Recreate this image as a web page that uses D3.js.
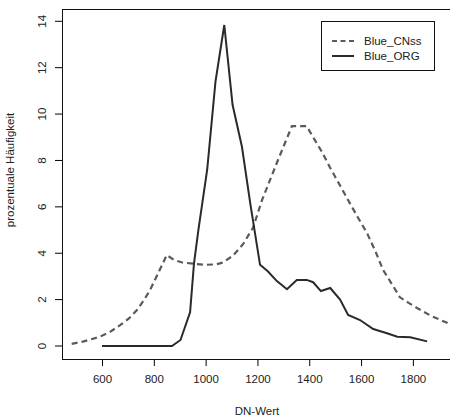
<!DOCTYPE html>
<html>
<head>
<meta charset="utf-8">
<title>DN-Wert</title>
<style>
  body { margin: 0; background: #fff; }
  svg { display: block; font-family: "Liberation Sans", Arial, sans-serif; }
  .tick text { fill: #222; }
</style>
</head>
<body>
<div id="chart"></div>
<script src="https://d3js.org/d3.v7.min.js"></script>
<script>
// DN-Wert vs prozentuale Haeufigkeit
var cnssX = [483, 530, 592, 630, 670, 705, 735, 760, 785, 815, 850, 880, 910, 951, 1000, 1040, 1067, 1106, 1145, 1183, 1218, 1275, 1333, 1390, 1415, 1450, 1480, 1520, 1557, 1590, 1623, 1655, 1685, 1720, 1750, 1785, 1816, 1870, 1932, 1944];
var cnssY = [0.09, 0.2, 0.4, 0.6, 0.9, 1.2, 1.55, 1.95, 2.4, 3.1, 3.92, 3.7, 3.6, 3.55, 3.5, 3.52, 3.6, 3.9, 4.4, 5.1, 6.3, 7.9, 9.48, 9.48, 9.0, 8.35, 7.7, 6.9, 6.15, 5.5, 4.87, 4.1, 3.28, 2.65, 2.1, 1.85, 1.64, 1.3, 1.0, 0.9];

var orgX = [600, 870, 903, 940, 955, 972, 1006, 1038, 1072, 1104, 1140, 1173, 1210, 1240, 1275, 1314, 1352, 1390, 1415, 1445, 1481, 1519, 1550, 1596, 1647, 1700, 1740, 1790, 1855];
var orgY = [0, 0, 0.26, 1.45, 3.55, 5.0, 7.6, 11.4, 13.84, 10.4, 8.6, 6.1, 3.5, 3.22, 2.8, 2.45, 2.85, 2.85, 2.75, 2.37, 2.5, 2.0, 1.34, 1.12, 0.73, 0.55, 0.4, 0.38, 0.2];

var xTicks = [600, 800, 1000, 1200, 1400, 1600, 1800];
var yTicks = [0, 2, 4, 6, 8, 10, 12, 14];

var seriesNames = ["Blue_CNss", "Blue_ORG"];

var width = 450, height = 417;
var margin = {top: 9, right: -2, bottom: 58, left: 62};

var svg = d3.select("#chart").append("svg")
  .attr("width", width)
  .attr("height", height);

var x = d3.scaleLinear().domain([445.6, 1951]).range([margin.left, width - margin.right]);
var y = d3.scaleLinear().domain([-0.56, 14.53]).range([height - margin.bottom, margin.top]);

// axes
var xAxis = svg.append("g")
  .attr("transform", "translate(0," + (height - margin.bottom) + ")")
  .call(d3.axisBottom(x).tickValues(xTicks).tickFormat(d3.format("d")).tickSize(7).tickPadding(9).tickSizeOuter(0));
xAxis.select(".domain").remove();
xAxis.selectAll("text").style("font-size", "11.5px");

var yAxis = svg.append("g")
  .attr("transform", "translate(" + margin.left + ",0)")
  .call(d3.axisLeft(y).tickValues(yTicks).tickFormat(d3.format("d")).tickSize(7).tickSizeOuter(0));
yAxis.select(".domain").remove();
yAxis.selectAll("text")
  .style("font-size", "11.5px")
  .attr("text-anchor", "middle")
  .attr("transform", function(d) { return "translate(-20," + y(d) + ") rotate(-90)"; })
  .attr("x", 0).attr("y", 0).attr("dy", "0.35em");
yAxis.selectAll(".tick").attr("transform", null);
yAxis.selectAll(".tick line").attr("y1", function(d) { return y(d); }).attr("y2", function(d) { return y(d); });

// box
svg.append("rect")
  .attr("x", margin.left + 0.5)
  .attr("y", margin.top + 0.5)
  .attr("width", width - margin.right - margin.left)
  .attr("height", height - margin.bottom - margin.top)
  .attr("fill", "none")
  .attr("stroke", "#111")
  .attr("stroke-width", 1);

// lines
var line = d3.line()
  .x(function(d) { return x(d[0]); })
  .y(function(d) { return y(d[1]); });

svg.append("path")
  .datum(d3.zip(cnssX, cnssY))
  .attr("d", line)
  .attr("fill", "none")
  .attr("stroke", "#5a5a5a")
  .attr("stroke-width", 2.2)
  .attr("stroke-dasharray", "6,4");

svg.append("path")
  .datum(d3.zip(orgX, orgY))
  .attr("d", line)
  .attr("fill", "none")
  .attr("stroke", "#2a2a2a")
  .attr("stroke-width", 2);

// axis titles
svg.append("text")
  .attr("x", (margin.left + width - margin.right) / 2)
  .attr("y", 415)
  .attr("text-anchor", "middle")
  .style("font-size", "11.5px")
  .style("fill", "#222")
  .text("DN-Wert");

svg.append("text")
  .attr("transform", "translate(14,170) rotate(-90)")
  .attr("text-anchor", "middle")
  .style("font-size", "11.5px")
  .style("fill", "#222")
  .text("prozentuale Häufigkeit");

// legend
var legend = svg.append("g").attr("transform", "translate(321,21)");
legend.append("rect")
  .attr("x", 0.5).attr("y", 0.5)
  .attr("width", 113).attr("height", 49)
  .attr("fill", "#fff")
  .attr("stroke", "#111");

var legendStyles = [
  {stroke: "#5a5a5a", dash: "5,3.5", w: 2.2},
  {stroke: "#2a2a2a", dash: null, w: 2}
];
seriesNames.forEach(function(name, i) {
  var yy = 20 + i * 15;
  legend.append("line")
    .attr("x1", 11).attr("x2", 33)
    .attr("y1", yy).attr("y2", yy)
    .attr("stroke", legendStyles[i].stroke)
    .attr("stroke-width", legendStyles[i].w)
    .attr("stroke-dasharray", legendStyles[i].dash);
  legend.append("text")
    .attr("x", 43).attr("y", yy)
    .attr("dy", "0.35em")
    .style("font-size", "11.5px")
    .style("fill", "#222")
    .text(name);
});
</script>
</body>
</html>
